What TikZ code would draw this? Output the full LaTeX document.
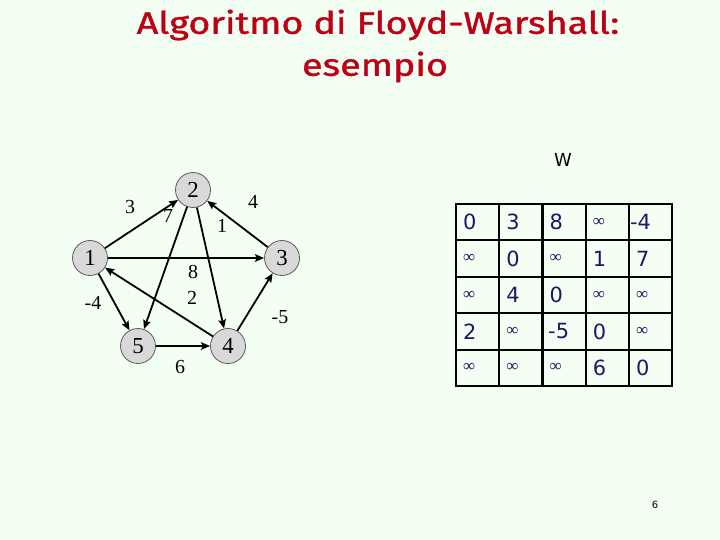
\documentclass[tikz,border=0pt]{standalone}
\usepackage{fontspec}
\setmainfont{Liberation Serif}
\newfontfamily\sansf{DejaVu Sans}
\newfontfamily\titlef[FakeBold=1.2]{Fira Sans}
\usetikzlibrary{arrows.meta}
\definecolor{bgc}{RGB}{244,255,244}
\definecolor{titlec}{RGB}{190,0,20}
\definecolor{cellc}{RGB}{25,25,100}
\definecolor{nodefill}{RGB}{217,217,217}
\definecolor{nodeborder}{RGB}{90,90,90}
\tikzset{
  vtx/.style={circle,fill=nodefill,draw=nodeborder,line width=0.8bp,minimum size=35bp,inner sep=0pt,font=\fontsize{23}{23}\selectfont},
  edge/.style={line width=1.8bp,-{Stealth[length=9bp,width=7.5bp,inset=1.5bp]}},
  elab/.style={font=\fontsize{20}{20}\selectfont,inner sep=0pt},
  cell/.style={anchor=west,inner sep=0pt,text=cellc,font=\sansf\fontsize{21}{21}\selectfont},
  inf/.style={anchor=west,inner sep=0pt,text=cellc,font=\fontsize{17}{17}\selectfont},
  gridline/.style={line width=2.2bp,black},
  ttl/.style={text=titlec,font=\titlef\fontsize{31}{31}\selectfont}
}
\begin{document}
\begin{tikzpicture}[x=1bp,y=-1bp]
\fill[bgc] (0,0) rectangle (720,540);
\useasboundingbox (0,0) rectangle (720,540);
% title
\node[ttl] (t1) at (378,25) {\scalebox{1.22}[1]{Algoritmo di Floyd-Warshall:}};
\node[ttl] (t2) at (375,67) {\scalebox{1.22}[1]{esempio}};
% graph
\node[vtx] (n1) at (90,258) {1};
\node[vtx] (n2) at (193,190) {2};
\node[vtx] (n3) at (282,258) {3};
\node[vtx] (n4) at (228,346) {4};
\node[vtx] (n5) at (138,346) {5};
\draw[edge] (n1) -- (n2);
\draw[edge] (n2) -- (n5);
\draw[edge] (n3) -- (n2);
\draw[edge] (n2) -- (n4);
\draw[edge] (n1) -- (n3);
\draw[edge] (n4) -- (n1);
\draw[edge] (n1) -- (n5);
\draw[edge] (n4) -- (n3);
\draw[edge] (n5) -- (n4);
\node[elab] (l12) at (130,207) {3};
\node[elab] (l25) at (168,216) {7};
\node[elab] (l32) at (253,202) {4};
\node[elab] (l24) at (222,226) {1};
\node[elab] (l13) at (193,272) {8};
\node[elab] (l41) at (192,298) {2};
\node[elab] (l15) at (93,303) {-4};
\node[elab] (l43) at (280,317) {-5};
\node[elab] (l54) at (180,367) {6};
% matrix
\node[font=\sansf\fontsize{18}{18}\selectfont] (w) at (563,160) {W};
\foreach \x in {456,499.2,542.4,585.6,628.8,672} \draw[gridline] (\x,204) -- (\x,386);
\foreach \y in {204,240.4,276.8,313.2,349.6,386} \draw[gridline] (454.9,\y) -- (673.1,\y);
% row 0
\node[cell] (a00) at (463,222.2) {0};
\node[cell] (a01) at (506.2,222.2) {3};
\node[cell] (a02) at (549.4,222.2) {8};
\node[inf]  (a03) at (592.6,222.2) {∞};
\node[cell] (a04) at (629.8,222.2) {-4};
% row 1
\node[inf]  (a10) at (463,258.6) {∞};
\node[cell] (a11) at (506.2,258.6) {0};
\node[inf]  (a12) at (549.4,258.6) {∞};
\node[cell] (a13) at (592.6,258.6) {1};
\node[cell] (a14) at (635.8,258.6) {7};
% row 2
\node[inf]  (a20) at (463,295) {∞};
\node[cell] (a21) at (506.2,295) {4};
\node[cell] (a22) at (549.4,295) {0};
\node[inf]  (a23) at (592.6,295) {∞};
\node[inf]  (a24) at (635.8,295) {∞};
% row 3
\node[cell] (a30) at (463,331.4) {2};
\node[inf]  (a31) at (506.2,331.4) {∞};
\node[cell] (a32) at (548,331.4) {-5};
\node[cell] (a33) at (592.6,331.4) {0};
\node[inf]  (a34) at (635.8,331.4) {∞};
% row 4
\node[inf]  (a40) at (463,367.8) {∞};
\node[inf]  (a41) at (506.2,367.8) {∞};
\node[inf]  (a42) at (549.4,367.8) {∞};
\node[cell] (a43) at (592.6,367.8) {6};
\node[cell] (a44) at (635.8,367.8) {0};
% page number
\node[font=\sansf\fontsize{10}{10}\selectfont] (pg) at (655,505) {6};
\end{tikzpicture}
\end{document}
